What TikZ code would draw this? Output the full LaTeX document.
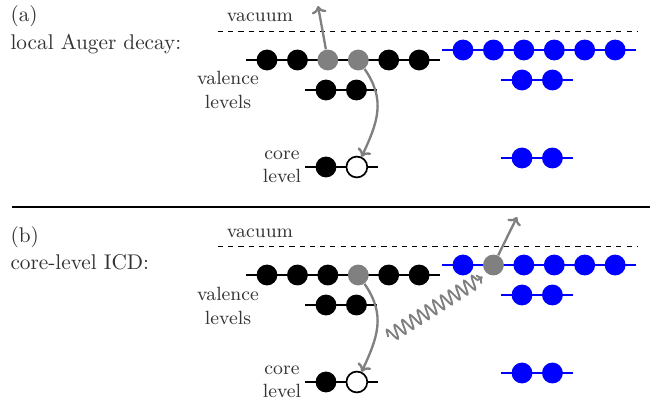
\documentclass[tikz,border=0pt]{standalone}
\usetikzlibrary{positioning, arrows.meta, backgrounds, decorations.pathmorphing}
\tikzset{%
  el/.style={circle, fill=black, minimum size=9.8pt, inner sep=0pt},
  ex/.style={el, fill=black!50},
  hole/.style={el, fill=white, draw=black, thick},
  bl/.style={el, fill=blue},
  lvl/.style={thick},
  blvl/.style={lvl, blue},
  vac/.style={dash pattern=on 2.4pt off 2.4pt},
  arr/.style={-{To[length=3.5pt, width=7pt]}, line width=1.1pt, black!50},
  lab/.style={text=black!80, align=center, font=\small},
  txt/.style={text=black!80, anchor=west}
}

\begin{document}
\begin{tikzpicture}[x=0.47pt, y=-0.47pt, node distance=4.1pt]
        \useasboundingbox (0,0) rectangle (650,405);
        % (a) local Auger decay
        \node[txt] (ta) at (3,16) {(a)};
        \node[txt] (la) at (3,44) {local Auger decay:};
        \node[lab] (vaca) at (260,17) {vacuum};
        \draw[vac] (218,31) -- (638,31);
        \node[el]  (aT1) at (267,60) {};
        \node[el]  (aT2) [right = of aT1] {};
        \node[ex]  (aT3) [right = of aT2] {};
        \node[ex]  (aT4) [right = of aT3] {};
        \node[el]  (aT5) [right = of aT4] {};
        \node[el]  (aT6) [right = of aT5] {};
        \node[el]  (aV1) at (326,90) {};
        \node[el]  (aV2) [right = of aV1] {};
        \node[el]  (aC1) at (326,167) {};
        \node[hole] (aC2) [right = of aC1] {};
        \node[bl]  (aB1) at (463,50) {};
        \node[bl]  (aB2) [right = of aB1] {};
        \node[bl]  (aB3) [right = of aB2] {};
        \node[bl]  (aB4) [right = of aB3] {};
        \node[bl]  (aB5) [right = of aB4] {};
        \node[bl]  (aB6) [right = of aB5] {};
        \node[bl]  (aBV1) at (522,80) {};
        \node[bl]  (aBV2) [right = of aBV1] {};
        \node[bl]  (aBC1) at (522,158) {};
        \node[bl]  (aBC2) [right = of aBC1] {};
        \node[lab] (vala) at (228,90) {valence\\levels};
        \node[lab] (corea) at (282,167) {core\\level};
        \begin{scope}[on background layer]
          \draw[lvl]  ([xshift=-4.7pt]aT1.west) -- ([xshift=4.7pt]aT6.east);
          \draw[lvl]  ([xshift=-4.7pt]aV1.west) -- ([xshift=4.7pt]aV2.east);
          \draw[lvl]  ([xshift=-4.7pt]aC1.west) -- ([xshift=4.7pt]aC2.east);
          \draw[blvl] ([xshift=-4.7pt]aB1.west) -- ([xshift=4.7pt]aB6.east);
          \draw[blvl] ([xshift=-4.7pt]aBV1.west) -- ([xshift=4.7pt]aBV2.east);
          \draw[blvl] ([xshift=-4.7pt]aBC1.west) -- ([xshift=4.7pt]aBC2.east);
        \end{scope}
        \coordinate (aout) at (318,6);
        \draw[arr] (aT3) -- (aout);
        \draw[arr] (aT4) to[out=-55, in=65, looseness=1.1] (aC2);
        % separator
        \draw[line width=1.4pt] (12,207) -- (650,207);
        % (b) core-level ICD
        \node[txt] (tb) at (3,237) {(b)};
        \node[txt] (lb) at (3,262) {core-level ICD:};
        \node[lab] (vacb) at (260,233) {vacuum};
        \draw[vac] (218,246) -- (638,246);
        \node[el]  (bT1) at (267,275) {};
        \node[el]  (bT2) [right = of bT1] {};
        \node[el]  (bT3) [right = of bT2] {};
        \node[ex]  (bT4) [right = of bT3] {};
        \node[el]  (bT5) [right = of bT4] {};
        \node[el]  (bT6) [right = of bT5] {};
        \node[el]  (bV1) at (326,305) {};
        \node[el]  (bV2) [right = of bV1] {};
        \node[el]  (bC1) at (326,382) {};
        \node[hole] (bC2) [right = of bC1] {};
        \node[bl]  (bB1) at (463,265) {};
        \node[ex]  (bB2) [right = of bB1] {};
        \node[bl]  (bB3) [right = of bB2] {};
        \node[bl]  (bB4) [right = of bB3] {};
        \node[bl]  (bB5) [right = of bB4] {};
        \node[bl]  (bB6) [right = of bB5] {};
        \node[bl]  (bBV1) at (522,295) {};
        \node[bl]  (bBV2) [right = of bBV1] {};
        \node[bl]  (bBC1) at (522,373) {};
        \node[bl]  (bBC2) [right = of bBC1] {};
        \node[lab] (valb) at (228,306) {valence\\levels};
        \node[lab] (coreb) at (282,382) {core\\level};
        \begin{scope}[on background layer]
          \draw[lvl]  ([xshift=-4.7pt]bT1.west) -- ([xshift=4.7pt]bT6.east);
          \draw[lvl]  ([xshift=-4.7pt]bV1.west) -- ([xshift=4.7pt]bV2.east);
          \draw[lvl]  ([xshift=-4.7pt]bC1.west) -- ([xshift=4.7pt]bC2.east);
          \draw[blvl] ([xshift=-4.7pt]bB1.west) -- ([xshift=4.7pt]bB6.east);
          \draw[blvl] ([xshift=-4.7pt]bBV1.west) -- ([xshift=4.7pt]bBV2.east);
          \draw[blvl] ([xshift=-4.7pt]bBC1.west) -- ([xshift=4.7pt]bBC2.east);
        \end{scope}
        \coordinate (bout) at (517,217);
        \coordinate (bph) at (388,337);
        \draw[arr] (bB2) -- (bout);
        \draw[arr] (bT4) to[out=-55, in=65, looseness=1.1] (bC2);
        \draw[arr, -{To[length=2.5pt, width=5pt]}, line width=0.9pt, decorate,
          decoration={snake, amplitude=3.2pt, segment length=4.3pt, post length=2.5pt}]
          (bph) -- ([shift={(-1.5pt,-2pt)}]bB2.south west);
\end{tikzpicture}
\end{document}
